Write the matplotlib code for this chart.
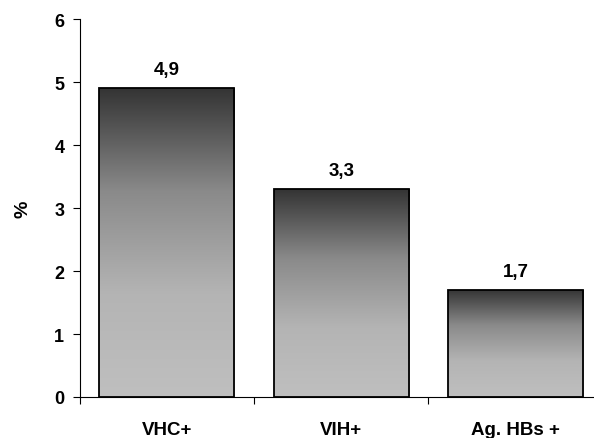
import matplotlib.pyplot as plt
import numpy as np
from matplotlib.colors import LinearSegmentedColormap

categories = ["VHC+", "VIH+", "Ag. HBs +"]
values = [4.9, 3.3, 1.7]
value_labels = ["4,9", "3,3", "1,7"]
yticks = [0, 1, 2, 3, 4, 5, 6]

plt.rcParams['font.family'] = ['Liberation Sans', 'DejaVu Sans']

fig = plt.figure(figsize=(5.94, 4.39), dpi=100)
ax = fig.add_axes([0.134, 0.0934, 0.881, 0.861])

x = np.arange(len(categories))
bars = ax.bar(x, values, width=0.774, facecolor='none', edgecolor='black', linewidth=1.3, zorder=3)

# degrade du fonce (haut) vers le clair (bas)
cmap = LinearSegmentedColormap.from_list('grad', ['#bfbfbf', '#b4b4b4', '#8a8a8a', '#343434'])
grad = np.linspace(0, 1, 256).reshape(-1, 1)
for b in bars:
    x0, y0 = b.get_x(), b.get_y()
    w, h = b.get_width(), b.get_height()
    im = ax.imshow(grad, cmap=cmap, extent=[x0, x0 + w, y0, y0 + h], origin='lower',
                   aspect='auto', zorder=2)
    im.set_clip_path(b)

for xi, v, lab in zip(x, values, value_labels):
    ax.text(xi, v + 0.3, lab, ha='center', va='center', fontsize=13.5, fontweight='bold')

ax.set_xlim(-0.5, 2.5)
ax.set_ylim(0, 6)
ax.set_yticks(yticks)
ax.set_yticklabels([str(t) for t in yticks], fontsize=13, fontweight='bold')
ax.set_xticks([-0.5, 0.5, 1.5, 2.5])
ax.set_xticklabels([])
ax.set_xticks(x, minor=True)
ax.set_xticklabels(categories, minor=True, fontsize=13.5, fontweight='bold')
ax.tick_params(axis='x', which='minor', length=0, pad=17)
ax.tick_params(axis='x', which='major', length=5, direction='out')
ax.tick_params(axis='y', length=5, direction='out', pad=6)
ax.set_ylabel('%', fontsize=14, fontweight='bold', labelpad=16)

for s in ['top', 'right']:
    ax.spines[s].set_visible(False)

plt.savefig('out.png', dpi=100)
